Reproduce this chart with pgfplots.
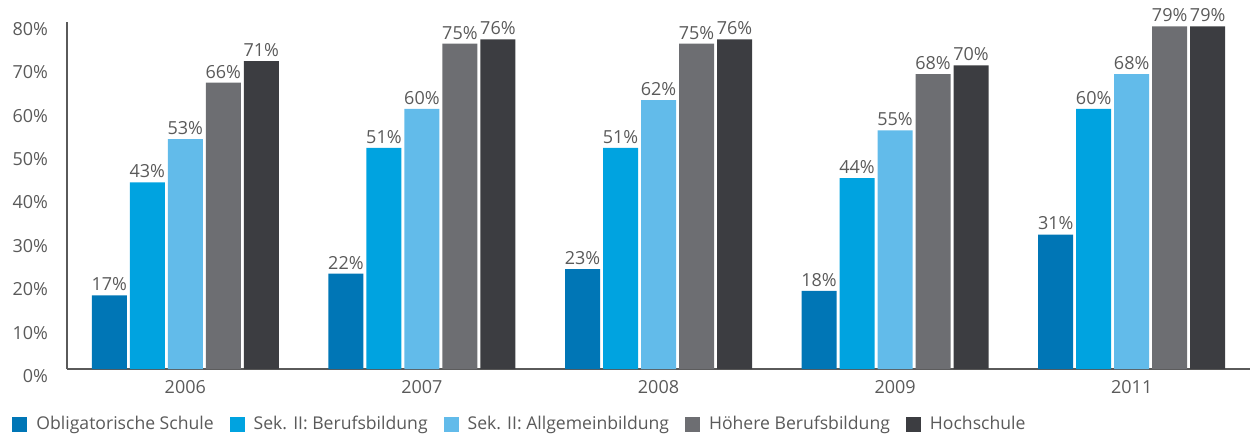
\documentclass[border=0pt]{standalone}
\usepackage{pgfplots}
\pgfplotsset{compat=1.18}
\usepackage{fontspec}
\setmainfont{Open Sans}
\definecolor{cA}{HTML}{0076B6}
\definecolor{cB}{HTML}{00A3E0}
\definecolor{cC}{HTML}{62BBEA}
\definecolor{cD}{HTML}{6D6E72}
\definecolor{cE}{HTML}{3C3D41}
\definecolor{txt}{HTML}{5A5A5A}
\begin{document}
\begin{tikzpicture}
\begin{axis}[
  width=591.5pt, height=173.5pt, scale only axis,
  ybar=1.5pt, bar width=17.5pt,
  xmin=-0.5, xmax=4.5, ymin=0, ymax=80,
  xtick={0,1,2,3,4}, xticklabels={2006,2007,2008,2009,2011},
  ytick={0,10,...,80},
  yticklabel={\pgfmathprintnumber{\tick}\%},
  /pgf/number format/assume math mode=true,
  major tick length=0pt,
  axis x line*=bottom, axis y line*=left,
  axis line style={draw=txt, line width=0.6pt},
  tick label style={font=\fontsize{9}{11}\selectfont, text=txt},
  yticklabel style={xshift=-6pt, yshift=-3.5pt},
  xticklabel style={yshift=-2pt},
  nodes near coords={\pgfmathprintnumber{\pgfplotspointmeta}\%},
  every node near coord/.append style={font=\fontsize{9}{11}\selectfont, text=txt, inner sep=2pt},
  legend style={at={(0,0)}, anchor=west, xshift=-27.5pt, yshift=-27.5pt, draw=none, inner sep=0pt, font=\fontsize{8.8}{11}\selectfont, text=txt, legend columns=-1,
    /tikz/every odd column/.append style={column sep=2.5pt},
    /tikz/every even column/.append style={column sep=6pt}},
  legend image code/.code={\fill[#1] (0pt,-3.75pt) rectangle (7.5pt,3.75pt);},
]
\addplot[fill=cA, draw=none] coordinates {(0,17) (1,22) (2,23) (3,18) (4,31)};
\addplot[fill=cB, draw=none] coordinates {(0,43) (1,51) (2,51) (3,44) (4,60)};
\addplot[fill=cC, draw=none] coordinates {(0,53) (1,60) (2,62) (3,55) (4,68)};
\addplot[fill=cD, draw=none] coordinates {(0,66) (1,75) (2,75) (3,68) (4,79)};
\addplot[fill=cE, draw=none] coordinates {(0,71) (1,76) (2,76) (3,70) (4,79)};
\legend{Obligatorische Schule, Sek. II: Berufsbildung, Sek. II: Allgemeinbildung, Höhere Berufsbildung, Hochschule}
\end{axis}
\path ([xshift=3.5pt]current axis.east) circle (0.01pt);
\path ([xshift=-33.5pt]current axis.west) circle (0.01pt);
\path ([yshift=11pt]current axis.north) circle (0.01pt);
\path ([yshift=-34pt]current axis.south) circle (0.01pt);
\end{tikzpicture}
\end{document}
